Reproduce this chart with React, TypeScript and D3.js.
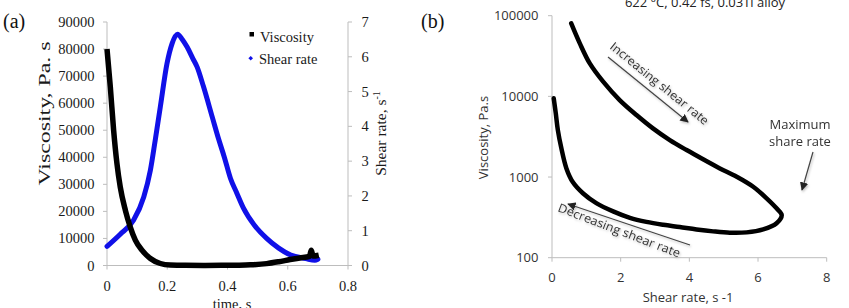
import React from "react";
import * as d3 from "d3";

// ---- Panel (a): viscosity and shear rate vs time ----
const timeVisc = [0, 0.011, 0.022, 0.033, 0.044, 0.061, 0.077, 0.094, 0.116, 0.144, 0.177, 0.21, 0.26, 0.32, 0.38, 0.43, 0.476, 0.53, 0.57, 0.608, 0.64, 0.672, 0.678, 0.684, 0.703];
const viscosity = [80000, 66000, 50000, 37700, 29000, 20400, 14300, 9400, 5700, 2600, 740, 150, 60, 40, 60, 120, 250, 700, 1400, 2200, 2800, 3400, 5600, 3500, 3800];

const timeShear = [0, 0.044, 0.088, 0.122, 0.144, 0.16, 0.177, 0.199, 0.216, 0.234, 0.25, 0.266, 0.285, 0.299, 0.32, 0.35, 0.37, 0.39, 0.41, 0.43, 0.453, 0.49, 0.53, 0.57, 0.61, 0.66, 0.69, 0.7];
const shearRate = [0.55, 0.9, 1.3, 1.97, 2.74, 3.6, 4.56, 5.8, 6.38, 6.65, 6.5, 6.28, 5.95, 5.71, 5.15, 4.25, 3.65, 3.1, 2.5, 2.1, 1.65, 1.15, 0.78, 0.5, 0.3, 0.2, 0.15, 0.18];

const aXTicks = [0, 0.2, 0.4, 0.6, 0.8];
const aYTicks = [0, 10000, 20000, 30000, 40000, 50000, 60000, 70000, 80000, 90000];
const aY2Ticks = [0, 1, 2, 3, 4, 5, 6, 7];
const aLegend = ["Viscosity", "Shear rate"];

// ---- Panel (b): viscosity vs shear rate (log) ----
const shearUp = [0.56, 0.81, 1.1, 1.49, 1.97, 2.46, 2.94, 3.43, 3.92, 4.4, 4.89, 5.38, 5.86, 6.25, 6.54, 6.69];
const viscUp = [80300, 45400, 25600, 15200, 9000, 5870, 4010, 2870, 2160, 1660, 1280, 1010, 759, 544, 409, 338];
const shearDown = [6.69, 6.54, 6.15, 5.67, 5.18, 4.69, 4.21, 3.72, 3.24, 2.75, 2.27, 1.78, 1.29, 0.9, 0.61, 0.42, 0.27, 0.17, 0.11, 0.05];
const viscDown = [338, 267, 224, 206, 204, 212, 224, 240, 256, 278, 312, 375, 475, 630, 860, 1280, 2300, 3830, 6170, 9450];

const bXTicks = [0, 2, 4, 6, 8];
const bYTicks = [100, 1000, 10000, 100000];
const bTitle = "622 °C, 0.42 fs, 0.03Ti alloy";

const serif = "'Liberation Serif', 'Times New Roman', serif";
const sans = "'Open Sans', 'Noto Sans', sans-serif";
const axisGray = "#bdbdbd";

export default function App() {
  // Panel a scales
  const ax = d3.scaleLinear().domain([0, 0.8]).range([107, 348]);
  const ay = d3.scaleLinear().domain([0, 90000]).range([265.5, 22]);
  const ay2 = d3.scaleLinear().domain([0, 7]).range([265.5, 22]);

  const viscLine = d3
    .line<number>()
    .x((_, i) => ax(timeVisc[i]))
    .y((d) => ay(d))
    .curve(d3.curveMonotoneX)(viscosity) as string;
  const shearLine = d3
    .line<number>()
    .x((_, i) => ax(timeShear[i]))
    .y((d) => ay2(d))
    .curve(d3.curveMonotoneX)(shearRate) as string;

  // Panel b scales
  const bx = d3.scaleLinear().domain([0, 8]).range([552, 826.7]);
  const by = d3.scaleLog().domain([100, 100000]).range([257.7, 15.7]);
  const upPts: [number, number][] = shearUp.map((s, i) => [bx(s), by(viscUp[i])]);
  const downPts: [number, number][] = shearDown.map((s, i) => [bx(s), by(viscDown[i])]);
  const loopLine = d3.line().curve(d3.curveCatmullRom.alpha(0.5))([...upPts, ...downPts.slice(1)]) as string;

  return (
    <svg
      width={849}
      height={308}
      style={{ position: "absolute", left: 0, top: 0, background: "#fff" }}
      xmlns="http://www.w3.org/2000/svg"
    >
      <defs>
        <marker id="ah" viewBox="0 0 10 10" refX="9" refY="5" markerWidth="7" markerHeight="7" orient="auto">
          <path d="M0,0 L10,5 L0,10 z" fill="#222" />
        </marker>
        <filter id="sh" x="-10%" y="-30%" width="130%" height="170%">
          <feDropShadow dx="1" dy="1.5" stdDeviation="1" floodColor="#000" floodOpacity="0.25" />
        </filter>
      </defs>

      {/* ============ Panel (a) ============ */}
      <text x={3} y={28} fontFamily={serif} fontSize={20} fill="#111">(a)</text>

      {/* axes */}
      <line x1={ax(0)} x2={ax(0)} y1={ay(90000)} y2={ay(0)} stroke={axisGray} strokeWidth={1} />
      <line x1={ax(0.8)} x2={ax(0.8)} y1={ay2(7)} y2={ay2(0)} stroke={axisGray} strokeWidth={1} />
      <line x1={ax(0)} x2={ax(0.8)} y1={ay(0)} y2={ay(0)} stroke={axisGray} strokeWidth={1} />
      {aYTicks.map((t) => (
        <g key={"ay" + t}>
          <line x1={ax(0) - 4} x2={ax(0)} y1={ay(t)} y2={ay(t)} stroke={axisGray} />
          <text x={94.5} y={ay(t) + 5} textAnchor="end" fontFamily={serif} fontSize={14.5} fill="#1a1a1a">{t}</text>
        </g>
      ))}
      {aY2Ticks.map((t) => (
        <g key={"ay2" + t}>
          <line x1={ax(0.8)} x2={ax(0.8) + 4} y1={ay2(t)} y2={ay2(t)} stroke={axisGray} />
          <text x={361.5} y={ay2(t) + 5} textAnchor="start" fontFamily={serif} fontSize={14.5} fill="#1a1a1a">{t}</text>
        </g>
      ))}
      {aXTicks.map((t) => (
        <g key={"ax" + t}>
          <line x1={ax(t)} x2={ax(t)} y1={ay(0)} y2={ay(0) + 4} stroke={axisGray} />
          <text x={ax(t)} y={291} textAnchor="middle" fontFamily={serif} fontSize={14.5} fill="#1a1a1a">{t}</text>
        </g>
      ))}

      {/* axis titles */}
      <text
        transform="translate(50,113.5) rotate(-90)"
        textAnchor="middle"
        fontFamily={serif}
        fontSize={16}
        fill="#1a1a1a"
        textLength={144}
        lengthAdjust="spacingAndGlyphs"
      >
        Viscosity, Pa. s
      </text>
      <text
        transform="translate(386,133.5) rotate(-90)"
        textAnchor="middle"
        fontFamily={serif}
        fontSize={15.5}
        fill="#1a1a1a"
      >
        Shear rate, s<tspan fontSize={10} dy={-6}>-1</tspan>
      </text>
      <text x={232} y={309} textAnchor="middle" fontFamily={serif} fontSize={14.5} fill="#1a1a1a">time, s</text>

      {/* series */}
      <path d={shearLine} fill="none" stroke="#1010e8" strokeWidth={5} strokeLinejoin="round" strokeLinecap="round" />
      <path d={viscLine} fill="none" stroke="#000" strokeWidth={5.5} strokeLinejoin="round" strokeLinecap="butt" />

      {/* legend */}
      <rect x={249.5} y={32} width={4.5} height={4.5} fill="#000" />
      <text x={260} y={41.5} fontFamily={serif} fontSize={14.5} fill="#1a1a1a">{aLegend[0]}</text>
      <path d="M250.7,56 L253,58.3 L250.7,60.6 L248.4,58.3 Z" fill="#1010e8" />
      <text x={259} y={64} fontFamily={serif} fontSize={14.5} fill="#1a1a1a">{aLegend[1]}</text>

      {/* ============ Panel (b) ============ */}
      <text x={421} y={28} fontFamily={serif} fontSize={20} fill="#111">(b)</text>
      <text x={705} y={7} textAnchor="middle" fontFamily={sans} fontSize={13} fill="#222">{bTitle}</text>

      <line x1={bx(0)} x2={bx(0)} y1={by(100000)} y2={by(100)} stroke={axisGray} />
      <line x1={bx(0)} x2={bx(8)} y1={by(100)} y2={by(100)} stroke={axisGray} />
      {bYTicks.map((t) => (
        <g key={"by" + t}>
          <line x1={bx(0) - 4} x2={bx(0)} y1={by(t)} y2={by(t)} stroke={axisGray} />
          <text x={538.5} y={by(t) + 4.5} textAnchor="end" fontFamily={sans} fontSize={13} fill="#333">{t}</text>
        </g>
      ))}
      {bXTicks.map((t) => (
        <g key={"bx" + t}>
          <line x1={bx(t)} x2={bx(t)} y1={by(100)} y2={by(100) + 4} stroke={axisGray} />
          <text x={bx(t)} y={282} textAnchor="middle" fontFamily={sans} fontSize={13} fill="#333">{t}</text>
        </g>
      ))}
      <text
        transform="translate(488,137.5) rotate(-90)"
        textAnchor="middle"
        fontFamily={sans}
        fontSize={13}
        fill="#333"
      >
        Viscosity, Pa.s
      </text>
      <text x={688} y={302} textAnchor="middle" fontFamily={sans} fontSize={13} fill="#333">Shear rate, s -1</text>

      <path d={loopLine} fill="none" stroke="#000" strokeWidth={4.5} strokeLinejoin="round" strokeLinecap="round" />

      {/* annotations */}
      <g filter="url(#sh)">
        <line x1={608} y1={57} x2={688} y2={122} stroke="#444" strokeWidth={1.2} markerEnd="url(#ah)" />
        <text
          transform="translate(609,48) rotate(39)"
          fontFamily={sans}
          fontSize={12}
          fill="#333"
          textLength={123}
          lengthAdjust="spacingAndGlyphs"
        >
          Increasing shear rate
        </text>
        <line x1={690} y1={245} x2={568} y2={204} stroke="#444" strokeWidth={1.2} markerEnd="url(#ah)" />
        <text
          transform="translate(557,211) rotate(21)"
          fontFamily={sans}
          fontSize={12}
          fill="#333"
          textLength={130}
          lengthAdjust="spacingAndGlyphs"
        >
          Decreasing shear rate
        </text>
        <line x1={813} y1={152} x2={802} y2={190} stroke="#444" strokeWidth={1.2} markerEnd="url(#ah)" />
      </g>
      <text x={800} y={129} textAnchor="middle" fontFamily={sans} fontSize={13} fill="#333">Maximum</text>
      <text x={800} y={146} textAnchor="middle" fontFamily={sans} fontSize={13} fill="#333">share rate</text>
    </svg>
  );
}
